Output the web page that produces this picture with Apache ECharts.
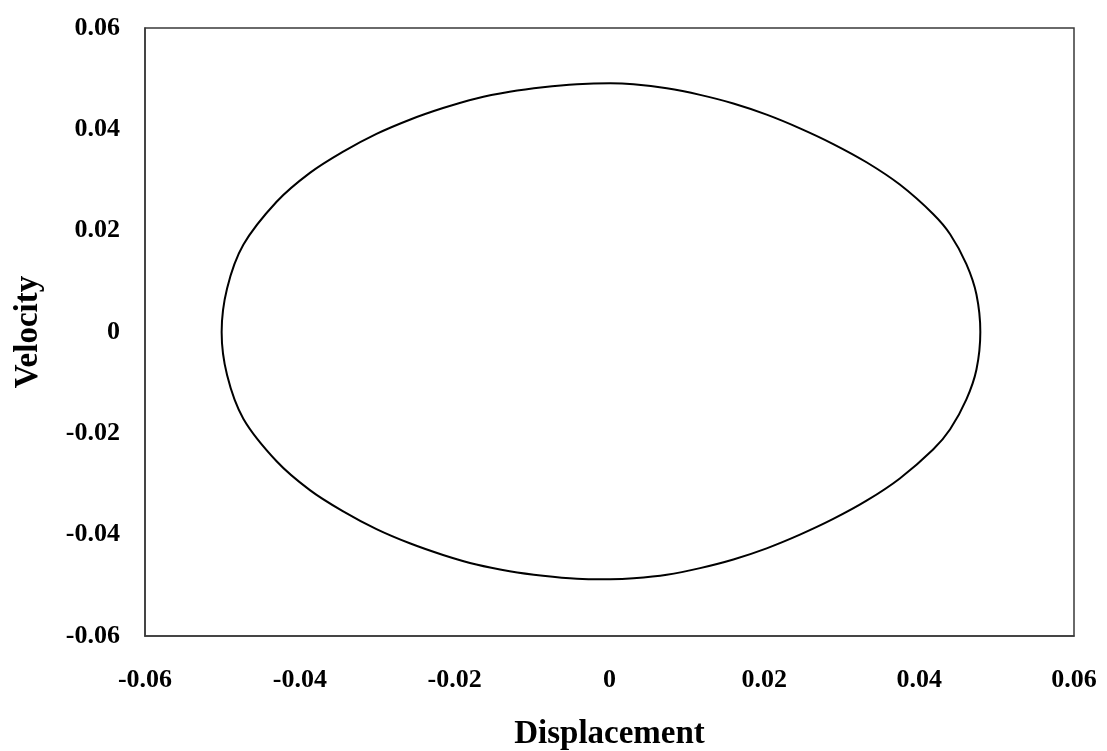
<!DOCTYPE html>
<html>
<head>
<meta charset="utf-8">
<script src="https://cdn.jsdelivr.net/npm/echarts@6/dist/echarts.min.js"></script>
<style>
  html, body { margin: 0; padding: 0; background: #fff; }
  #chart { width: 1107px; height: 751px; }
</style>
</head>
<body>
<div id="chart"></div>
<script>
// Phase trajectory: displacement vs velocity, one closed loop
// (upper half left to right, then lower half right to left)
const displacement = [
  -0.0501, -0.0494, -0.0473, -0.0430, -0.0387, -0.0344, -0.0301, -0.0258, -0.0215,
  -0.0172, -0.0129, -0.0086, -0.0042, 0.0001, 0.0031, 0.0074, 0.0117, 0.0160,
  0.0203, 0.0246, 0.0289, 0.0332, 0.0375, 0.0418, 0.0440, 0.0461, 0.0474, 0.0479,
  0.0474, 0.0461, 0.0440, 0.0418, 0.0375, 0.0332, 0.0289, 0.0246, 0.0203, 0.0160,
  0.0117, 0.0074, 0.0031, 0.0001, -0.0042, -0.0086, -0.0129, -0.0172, -0.0215,
  -0.0258, -0.0301, -0.0344, -0.0387, -0.0430, -0.0473, -0.0494
];
const velocity = [
  0.0000, 0.0086, 0.0172, 0.0257, 0.0314, 0.0356, 0.0391, 0.0419, 0.0442,
  0.0461, 0.0474, 0.0483, 0.0489, 0.0491, 0.0489, 0.0481, 0.0468, 0.0451,
  0.0429, 0.0402, 0.0371, 0.0335, 0.0291, 0.0233, 0.0193, 0.0134, 0.0074, 0.0000,
  -0.0074, -0.0133, -0.0192, -0.0232, -0.0289, -0.0333, -0.0369, -0.0400, -0.0427, -0.0449,
  -0.0466, -0.0479, -0.0486, -0.0488, -0.0487, -0.0481, -0.0472, -0.0459, -0.0440,
  -0.0417, -0.0389, -0.0354, -0.0312, -0.0255, -0.0171, -0.0085
];

// Axis tick labels (shared by both axes)
const tickLabels = ['-0.06', '-0.04', '-0.02', '0', '0.02', '0.04', '0.06'];
const axisMin = -0.06, axisMax = 0.06, axisStep = 0.02;

const labelFor = v => {
  const i = Math.round((v - axisMin) / axisStep);
  return tickLabels[i] !== undefined ? tickLabels[i] : '';
};

const points = displacement.map((x, i) => [x, velocity[i]]);

// The loop is closed, so it is drawn as a single smoothed polygon outline
// whose vertices are mapped through the cartesian axes.
function renderLoop(params, api) {
  if (params.dataIndex !== 0) return null;
  const pts = points.map(p => api.coord(p));
  return {
    type: 'polygon',
    shape: { points: pts, smooth: 0.35 },
    style: { fill: 'none', stroke: '#000', lineWidth: 2 },
    silent: true
  };
}

const font = '"Liberation Serif", "Times New Roman", serif';
const chart = echarts.init(document.getElementById('chart'), null, { renderer: 'canvas' });

chart.setOption({
  animation: false,
  backgroundColor: '#ffffff',
  grid: {
    left: 145, right: 33, top: 28, bottom: 115,
    outerBoundsMode: 'none',
    containLabel: false,
    show: true, borderColor: '#3a3a3a', borderWidth: 1.5, backgroundColor: 'transparent'
  },
  xAxis: {
    type: 'value', min: axisMin, max: axisMax, interval: axisStep,
    name: 'Displacement', nameLocation: 'middle', nameGap: 82,
    nameTextStyle: { fontFamily: font, fontWeight: 'bold', fontSize: 33, color: '#000' },
    axisLine: { show: true, onZero: false, lineStyle: { color: '#3a3a3a', width: 1.5 } },
    axisTick: { show: false },
    splitLine: { show: false },
    axisLabel: {
      margin: 31, fontFamily: font, fontWeight: 'bold', fontSize: 26, color: '#000',
      formatter: labelFor
    }
  },
  yAxis: {
    type: 'value', min: axisMin, max: axisMax, interval: axisStep,
    name: 'Velocity', nameLocation: 'middle', nameGap: 100, nameRotate: 90,
    nameTextStyle: { fontFamily: font, fontWeight: 'bold', fontSize: 33, color: '#000' },
    axisLine: { show: true, onZero: false, lineStyle: { color: '#3a3a3a', width: 1.5 } },
    axisTick: { show: false },
    splitLine: { show: false },
    axisLabel: {
      margin: 25, fontFamily: font, fontWeight: 'bold', fontSize: 26, color: '#000',
      formatter: labelFor
    }
  },
  series: [{
    type: 'custom',
    coordinateSystem: 'cartesian2d',
    data: points,
    encode: { x: 0, y: 1 },
    renderItem: renderLoop
  }]
});
</script>
</body>
</html>
